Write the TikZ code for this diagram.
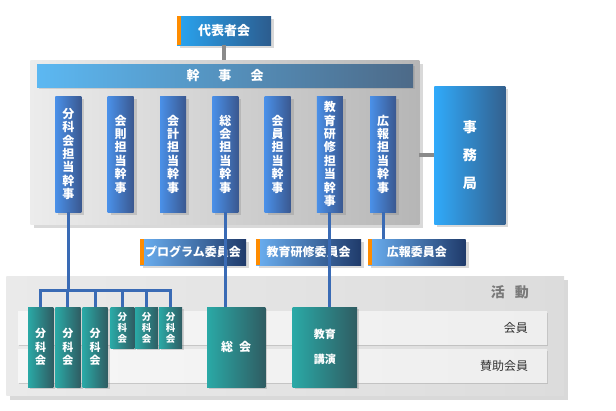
\documentclass[tikz,border=0pt]{standalone}
\usepackage{fontspec}
\newfontfamily\jpfont{Noto Sans CJK JP}
\usepackage{tikz}
\usetikzlibrary{positioning,shadows,calc}
\definecolor{headleft}{HTML}{29A4F0}
\definecolor{headright}{HTML}{2C5C8E}
\definecolor{barleft}{HTML}{5CB8F2}
\definecolor{barright}{HTML}{4D6A88}
\definecolor{postleft}{HTML}{4A90E8}
\definecolor{postright}{HTML}{3A5890}
\definecolor{officeleft}{HTML}{30AAFA}
\definecolor{officeright}{HTML}{33608E}
\definecolor{commleft}{HTML}{6BB0F2}
\definecolor{commright}{HTML}{1F3A6A}
\definecolor{tealleft}{HTML}{2AA9A6}
\definecolor{tealright}{HTML}{2F5C62}
\definecolor{accent}{HTML}{FF8C00}
\definecolor{linkblue}{HTML}{3A6BB5}
\definecolor{stubgrey}{HTML}{8A8A8A}
\definecolor{boardleft}{HTML}{ECECEC}
\definecolor{boardright}{HTML}{B6B6B6}
\definecolor{actleft}{HTML}{EAEAEA}
\definecolor{actright}{HTML}{DCDCDC}
\definecolor{rowleft}{HTML}{F6F6F6}
\definecolor{rowright}{HTML}{EEEEEE}
\definecolor{captiongrey}{HTML}{7A7A7A}
\definecolor{rowtext}{HTML}{333333}
\tikzset{
  orgbase/.style={anchor=north west, inner sep=0pt, outer sep=0pt, text=white, align=center},
  orgpanel/.style={orgbase, left color=boardleft, right color=boardright, drop shadow={shadow xshift=4pt, shadow yshift=-4pt, opacity=.3}},
  orgactpanel/.style={orgpanel, left color=actleft, right color=actright},
  orghead/.style={orgbase, left color=headleft, right color=headright, drop shadow={shadow xshift=3pt, shadow yshift=-3pt, opacity=.3}, font=\jpfont\bfseries\fontsize{13}{15}\selectfont,
    path picture={\fill[accent] (path picture bounding box.north west) rectangle ([xshift=4pt]path picture bounding box.south west);}},
  orgbar/.style={orgbase, left color=barleft, right color=barright, drop shadow={shadow xshift=2pt, shadow yshift=-2pt, opacity=.25}, font=\jpfont\bfseries\fontsize{13}{15}\selectfont},
  orgpost/.style={orgbase, left color=postleft, right color=postright, minimum width=26pt, minimum height=116pt, drop shadow={shadow xshift=3pt, shadow yshift=-3pt, opacity=.3}, font=\jpfont\bfseries\fontsize{12}{13.4}\selectfont},
  orgoffice/.style={orgbase, left color=officeleft, right color=officeright, drop shadow={shadow xshift=3pt, shadow yshift=-3pt, opacity=.3}, font=\jpfont\bfseries\fontsize{14}{28}\selectfont},
  orgcomm/.style={orghead, left color=commleft, right color=commright, minimum height=26pt, font=\jpfont\bfseries\fontsize{12}{14}\selectfont},
  orgrow/.style={orgbase, left color=rowleft, right color=rowright, text=rowtext, text width=490.8pt, inner xsep=19pt, minimum height=33pt, align=right, drop shadow={shadow xshift=1pt, shadow yshift=-2pt, opacity=.3}, font=\jpfont\fontsize{12}{14}\selectfont},
  orgteam/.style={orgbase, left color=tealleft, right color=tealright, drop shadow={shadow xshift=2pt, shadow yshift=-2pt, opacity=.3}, font=\jpfont\bfseries\fontsize{11}{13.5}\selectfont},
  orgteambig/.style={orgteam, minimum height=80pt},
  orgteamsmall/.style={orgteam, minimum height=41pt, font=\jpfont\bfseries\fontsize{9.5}{11}\selectfont},
  orgcaption/.style={inner sep=0pt, text=captiongrey, font=\jpfont\bfseries\fontsize{14}{16}\selectfont},
  orglink/.style={line width=3pt, linkblue},
  orgstub/.style={line width=4pt, stubgrey},
}
\begin{document}
\begin{tikzpicture}[x=1pt, y=-1pt]
  \useasboundingbox (0,0) rectangle (616,410);
  % board of officers
  \node[orgpanel, minimum width=389pt, minimum height=164pt] (board) at (30.4,60) {};
  \node[orgbar, minimum width=376pt, minimum height=23pt] (bar) at (37,64) {幹\hspace{19pt}事\hspace{19pt}会};
  \node[orgpost] (p1) at (55.3,96) {分\\科\\会\\担\\当\\幹\\事};
  \node[orgpost] (p2) at (107.6,96) {会\\則\\担\\当\\幹\\事};
  \node[orgpost] (p3) at (160,96) {会\\計\\担\\当\\幹\\事};
  \node[orgpost] (p4) at (212.3,96) {総\\会\\担\\当\\幹\\事};
  \node[orgpost] (p5) at (264.6,96) {会\\員\\担\\当\\幹\\事};
  \node[orgpost] (p6) at (316.8,96) {教\\育\\研\\修\\担\\当\\幹\\事};
  \node[orgpost] (p7) at (370,96) {広\\報\\担\\当\\幹\\事};
  \node[orghead, minimum width=94pt, minimum height=29pt] (rep) at (177,16) {代表者会};
  \node[orgoffice, minimum width=71pt, minimum height=138pt] (office) at (434.4,86) {事\\務\\局};
  \draw[orgstub] (rep.south) -- (rep.south |- board.north);
  \draw[orgstub] (board.east |- office.west) -- (office.west);
  % committees
  \node[orgcomm, minimum width=106pt] (prog) at (140,239) {プログラム委員会};
  \node[orgcomm, minimum width=105pt] (edu) at (256,239) {教育研修委員会};
  \node[orgcomm, minimum width=97.6pt] (pr) at (368,239) {広報委員会};
  % activities
  \node[orgactpanel, minimum width=557.7pt, minimum height=119.7pt] (act) at (6.3,276) {};
  \node[orgcaption, anchor=east] (acttitle) at ($(act.north east)+(-35,16)$) {活\hspace{10pt}動};
  \node[orgrow] (members) at (18.2,311) {会員};
  \node[orgrow] (supporters) at (18.2,349) {賛助会員};
  \coordinate (fork) at (0,290.7);
  \draw[orglink] (p1.south) -- (p1.south |- fork);
  \draw[orglink] (p4.south) -- (p4.south |- act.north) -- ++(0,31);
  \draw[orglink] (p6.south) -- ++(0,95.3);
  \draw[orglink] (p7.south) -- (p7.south |- pr.north);
  \node[orgteambig, minimum width=25.3pt] (g1) at (28,307) {分\\科\\会};
  \node[orgteambig, minimum width=25.3pt] (g2) at (55.3,307) {分\\科\\会};
  \node[orgteambig, minimum width=25pt] (g3) at (82.5,307) {分\\科\\会};
  \node[orgteamsmall, minimum width=23.7pt] (s1) at (110.6,307) {分\\科\\会};
  \node[orgteamsmall, minimum width=23pt] (s2) at (135,307) {分\\科\\会};
  \node[orgteamsmall, minimum width=23pt] (s3) at (159,307) {分\\科\\会};
  \draw[orglink] (g1.north) -- (g1.north |- fork) -- (s3.north |- fork) -- (s3.north)
    (g2.north) -- (g2.north |- fork) (g3.north) -- (g3.north |- fork)
    (s1.north) -- (s1.north |- fork) (s2.north) -- (s2.north |- fork);
  \node[orgteambig, minimum width=58.4pt, font=\jpfont\bfseries\fontsize{12}{14}\selectfont] (general) at (207,307) {総\hspace{6pt}会};
  \node[orgteambig, minimum width=64.3pt, font=\jpfont\bfseries\fontsize{11}{24.5}\selectfont] (lecture) at (292.7,307) {教育\\講演};
\end{tikzpicture}
\end{document}
